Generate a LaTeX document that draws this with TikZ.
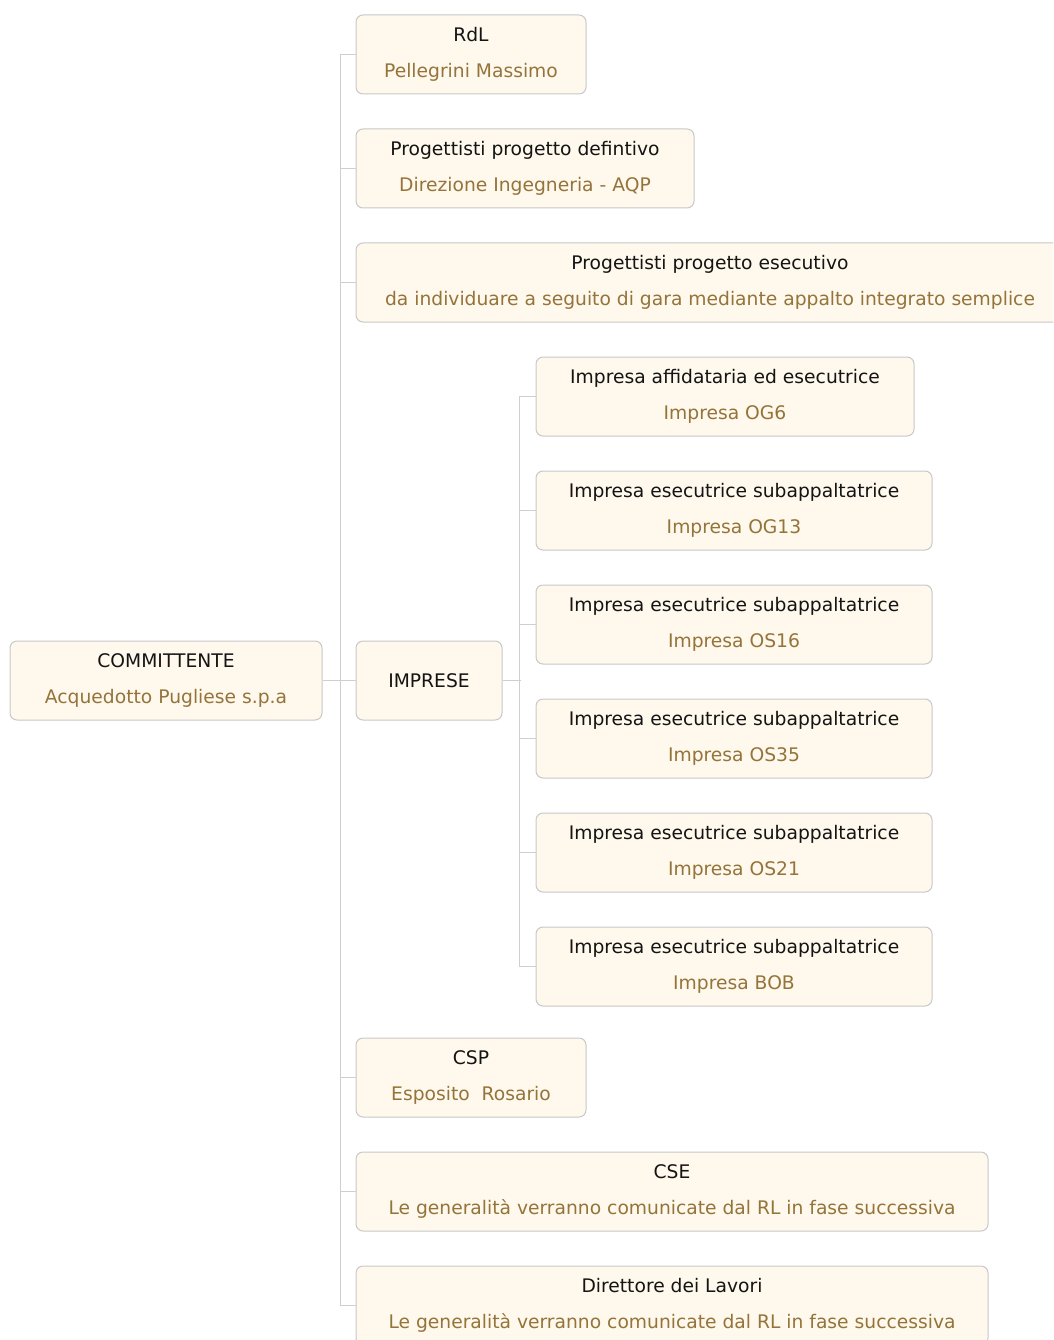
\documentclass[tikz,border=0pt]{standalone}
\usepackage{fontspec}
\setmainfont{DejaVu Sans}
\definecolor{boxfill}{HTML}{FFF8EC}
\definecolor{boxline}{HTML}{C8C8C8}
\definecolor{conncol}{HTML}{CFCFCF}
\definecolor{titlecol}{HTML}{141414}
\definecolor{subcol}{HTML}{94743A}
\newcommand{\bx}[2]{\textcolor{titlecol}{#1}\\\textcolor{subcol}{#2}}
\begin{document}
\begin{tikzpicture}[x=1pt,y=-1pt,
  box/.style={draw=boxline, fill=boxfill, rounded corners=7pt, line width=1pt,
    minimum height=79pt, inner sep=0pt, align=center,
    font=\fontsize{18.7}{36}\selectfont},
  conn/.style={draw=conncol, line width=1.2pt}]
\useasboundingbox (0,0) rectangle (1053,1340);
\clip (0,0) rectangle (1053,1340);
\node[box, minimum width=312pt] (comm) at (166,680.5) {\bx{COMMITTENTE}{Acquedotto Pugliese s.p.a}};
\node[box, minimum width=230pt] (rdl) at (471,54.5) {\bx{RdL}{Pellegrini Massimo}};
\node[box, minimum width=338pt] (pdef) at (525,168.5) {\bx{Progettisti progetto defintivo}{Direzione Ingegneria - AQP}};
\node[box, minimum width=708pt] (pes) at (710,282.5) {\bx{Progettisti progetto esecutivo}{da individuare a seguito di gara mediante appalto integrato semplice}};
\node[box, minimum width=146pt] (imp) at (429,680.5) {\textcolor{titlecol}{IMPRESE}};
\node[box, minimum width=230pt] (csp) at (471,1077.5) {\bx{CSP}{Esposito\ \ Rosario}};
\node[box, minimum width=632pt] (cse) at (672,1191.5) {\bx{CSE}{Le generalità verranno comunicate dal RL in fase successiva}};
\node[box, minimum width=632pt] (dl) at (672,1305.5) {\bx{Direttore dei Lavori}{Le generalità verranno comunicate dal RL in fase successiva}};
\node[box, minimum width=378pt] (og6) at (725,396.5) {\bx{Impresa affidataria ed esecutrice}{Impresa OG6}};
\node[box, minimum width=396pt] (og13) at (734,510.5) {\bx{Impresa esecutrice subappaltatrice}{Impresa OG13}};
\node[box, minimum width=396pt] (os16) at (734,624.5) {\bx{Impresa esecutrice subappaltatrice}{Impresa OS16}};
\node[box, minimum width=396pt] (os35) at (734,738.5) {\bx{Impresa esecutrice subappaltatrice}{Impresa OS35}};
\node[box, minimum width=396pt] (os21) at (734,852.5) {\bx{Impresa esecutrice subappaltatrice}{Impresa OS21}};
\node[box, minimum width=396pt] (bob) at (734,966.5) {\bx{Impresa esecutrice subappaltatrice}{Impresa BOB}};
% connectors
\draw[conn] (rdl.west) -- ++(-15,0) |- (dl.west);
\foreach \n in {pdef,pes,csp,cse} \draw[conn] (\n.west) -- ++(-15,0);
\draw[conn] (comm.east) -- (imp.west);
\draw[conn] (og6.west) -- ++(-16,0) |- (bob.west);
\foreach \n in {og13,os16,os35,os21} \draw[conn] (\n.west) -- ++(-16,0);
\draw[conn] (imp.east) -- ++(18,0);
\end{tikzpicture}
\end{document}
